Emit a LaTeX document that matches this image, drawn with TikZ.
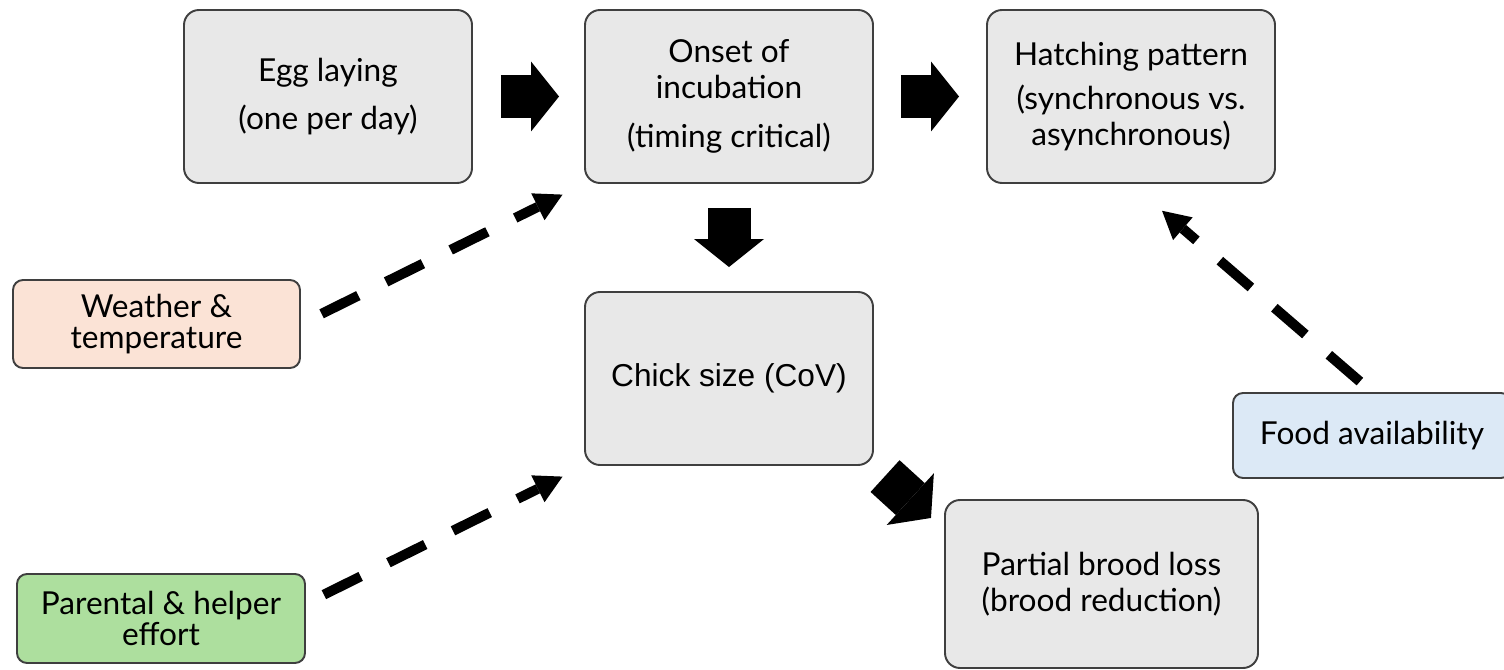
\documentclass[tikz,border=0pt]{standalone}
\usepackage{fontspec}
\setmainfont{Lato}
\newfontfamily\arialfont{Liberation Sans}
\usetikzlibrary{positioning, arrows.meta, calc}
\definecolor{boxgray}{HTML}{E8E8E8}
\definecolor{boxline}{HTML}{3F3F3F}
\definecolor{peach}{HTML}{FBE3D6}
\definecolor{leafgreen}{HTML}{ADDF9E}
\definecolor{skyblue}{HTML}{DCE9F6}

\begin{document}
\begin{tikzpicture}[
  stagebox/.style={rectangle, draw=boxline, line width=1.1pt, fill=boxgray, rounded corners=0.3cm, minimum width=5.76cm, minimum height=3.46cm, align=center, inner sep=0pt, font=\fontsize{18}{20.5}\selectfont},
  factorbox/.style={rectangle, draw=boxline, line width=1.1pt, rounded corners=0.2cm, minimum width=5.74cm, minimum height=1.76cm, align=center, inner sep=0pt, font=\fontsize{18}{18}\selectfont},
  blockarrow/.style={line width=0.86cm, -{Triangle[length=0.56cm, width=1.4cm, line width=0pt]}},
  dasharrow/.style={line width=0.2cm, dash pattern=on 0.82cm off 0.62cm, -{Triangle[length=0.55cm, width=0.6cm, line width=0pt]}}
]
\useasboundingbox (0,0) rectangle (30.08,-13.4);

% Breeding sequence
\node[stagebox] (egg) at (6.56,-1.93) {Egg laying\\[7pt](one per day)};
\node[stagebox] (onset) at (14.58,-1.93) {Onset of\\incubation\\[7pt](timing critical)};
\node[stagebox] (hatch) at (22.62,-1.93) {Hatching pattern\\[5pt](synchronous vs.\\asynchronous)};
\node[stagebox, font=\arialfont\fontsize{18}{21}\selectfont] (chick) at (14.58,-7.57) {Chick size (CoV)};
\node[stagebox, minimum width=6.26cm, minimum height=3.36cm] (brood) at (22.03,-11.68) {Partial brood loss\\(brood reduction)};

% Outside factors
\node[factorbox, fill=peach] (weather) at (3.13,-6.48) {Weather \&\\temperature};
\node[factorbox, fill=leafgreen, minimum width=5.76cm, minimum height=1.78cm] (parental) at (3.22,-12.37) {Parental \& helper\\effort};
\node[factorbox, fill=skyblue, minimum width=5.56cm, minimum height=1.7cm] (food) at (27.44,-8.71) {Food availability};

\draw[blockarrow, shorten <=0.56cm, shorten >=0.5cm] (egg) -- (onset);
\draw[blockarrow, shorten <=0.54cm, shorten >=0.54cm] (onset) -- (hatch);
\draw[blockarrow, shorten <=0.48cm, shorten >=0.48cm] (onset) -- (chick);
\coordinate (losstip) at ($(chick.south east)+(1.14,-1.04)$);
\draw[blockarrow, shorten <=0.3cm] (chick.south east) -- (losstip);

% Influences
\draw[dasharrow, shorten <=0.46cm, shorten >=0.48cm] (weather.east) -- (onset.south west);
\draw[dasharrow, shorten <=0.4cm, shorten >=0.48cm] ([yshift=0.3cm]parental.east) -- (chick.south west);
\draw[dasharrow, shorten <=0.32cm, shorten >=0.82cm] (food.north) -- (hatch.south);

\end{tikzpicture}
\end{document}
